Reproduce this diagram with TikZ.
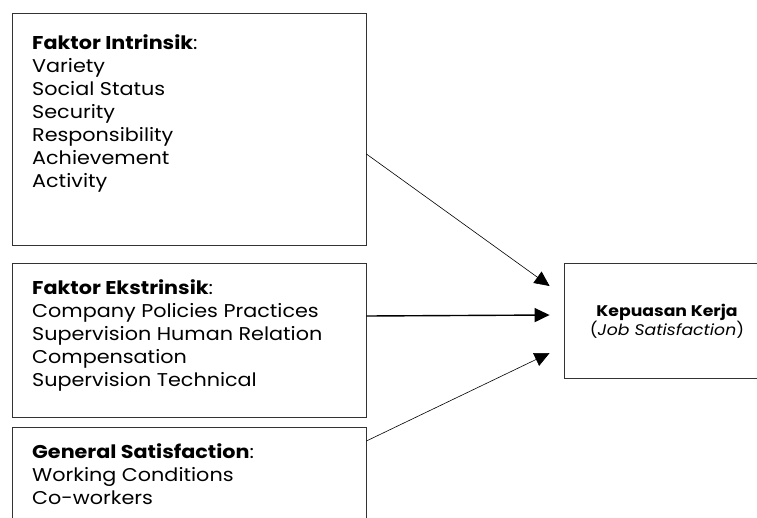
\documentclass[tikz,border=0pt]{standalone}
\usepackage{fontspec}
\setmainfont[FakeStretch=1.12]{Poppins}
\usetikzlibrary{arrows.meta}

\begin{document}
\begin{tikzpicture}[x=1pt,y=-1pt,
  box/.style={draw=black!80,line width=0.8pt,inner sep=0pt},
  item/.style={anchor=base west,inner sep=0pt,font=\fontsize{18.5}{23}\selectfont},
  res/.style={anchor=base,inner sep=0pt,font=\fontsize{15.4}{18}\selectfont},
  arr/.style={-{Triangle[length=15pt,width=14pt]},line width=0.6pt}]
\useasboundingbox (0,0) rectangle (757,517);
\clip (0,0) rectangle (757,517);

% boxes
\node[box,minimum width=354pt,minimum height=232pt] (intr) at (189,129) {};
\node[box,minimum width=354pt,minimum height=154pt] (ekst) at (189,340) {};
\node[box,minimum width=354pt,minimum height=170pt] (gen) at (189,512) {};
\node[box,minimum width=206pt,minimum height=115pt] (kep) at (667,321) {};

% texts
\node[item] (intr-0) at (32,49.3) {\textbf{Faktor Intrinsik}:};
\foreach \t [count=\i] in {Variety,Social Status,Security,Responsibility,Achievement,Activity}
  \node[item] (intr-\i) at (32,49.3+23*\i) {\t};

\node[item] (ekst-0) at (32,294.3) {\textbf{Faktor Ekstrinsik}:};
\foreach \t [count=\i] in {Company Policies Practices,Supervision Human Relation,Compensation,Supervision Technical}
  \node[item] (ekst-\i) at (32,294.3+23*\i) {\t};

\node[item] (gen-0) at (32,458) {\textbf{General Satisfaction}:};
\foreach \t [count=\i] in {Working Conditions,Co-workers}
  \node[item] (gen-\i) at (32,458+23*\i) {\t};

\node[res] (kep-1) at (667,316.7) {\textbf{Kepuasan Kerja}};
\node[res] (kep-2) at (667,335) {(\textit{Job Satisfaction})};

% arrows
\draw[arr] ([yshift=-25pt]intr.east) -- ([xshift=-14pt,yshift=35pt]kep.west);
\draw[arr,line width=1.4pt] ([yshift=24pt]ekst.east) -- ([xshift=-14pt,yshift=6pt]kep.west);
\draw[arr] ([yshift=71pt]gen.east) -- ([xshift=-14pt,yshift=-32pt]kep.west);

\end{tikzpicture}
\end{document}
